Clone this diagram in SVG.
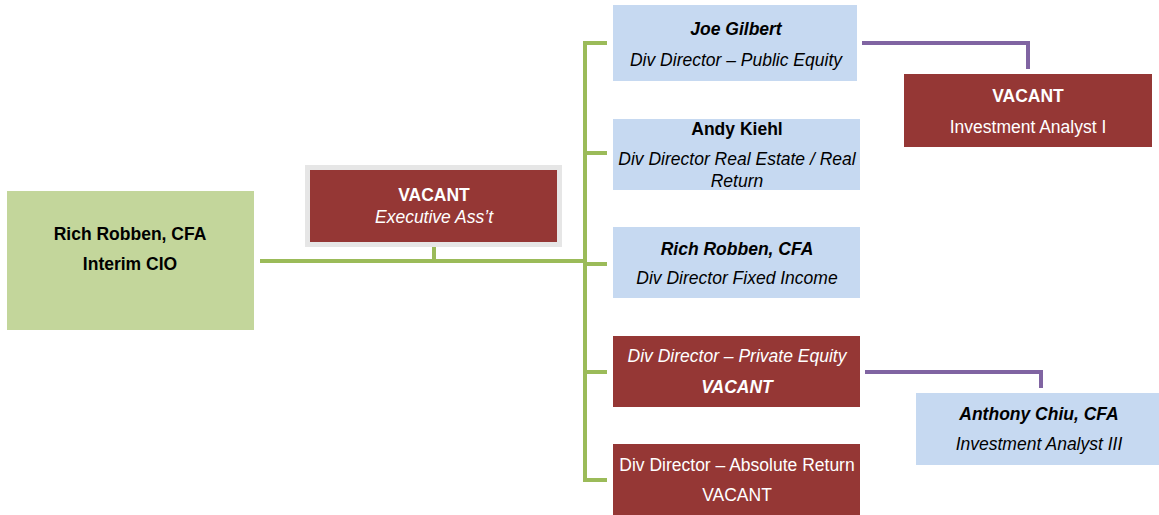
<svg xmlns="http://www.w3.org/2000/svg" width="1159" height="515" viewBox="0 0 1159 515">
  <style>
    text { font-family: "Liberation Sans", Arial, sans-serif; font-size: 17.5px; text-anchor: middle; }
    .b { font-weight: bold; }
    .i { font-style: italic; }
    .dark { fill: #000000; }
    .light { fill: #ffffff; }
    .blue { fill: #c6d9f1; }
    .red { fill: #953735; }
    .green { fill: #c3d69b; }
    .g { stroke: #9bbb59; stroke-width: 4; fill: none; }
    .p { stroke: #8064a2; stroke-width: 4; fill: none; }
  </style>

  <g id="connectors">
    <!-- CIO to directors trunk -->
    <path class="g" d="M260 261 H585"/>
    <path class="g" d="M434 247 V261"/>
    <path class="g" d="M585 42 V482"/>
    <path class="g" d="M583 43 H607 M585 153 H607 M585 264 H607 M585 372 H607 M583 480 H607"/>
    <!-- directors to analysts -->
    <path class="p" d="M862 43 H1028 V69"/>
    <path class="p" d="M865 372 H1041 V388"/>
  </g>

  <g id="cio">
    <rect class="green" x="7" y="191" width="247" height="139"/>
    <text class="b dark" x="130" y="240">Rich Robben, CFA</text>
    <text class="b dark" x="130" y="270">Interim CIO</text>
  </g>

  <g id="exec-asst">
    <rect x="305" y="165" width="257" height="82" fill="#e6e6e6"/>
    <rect class="red" x="310" y="170" width="247" height="72"/>
    <text class="b light" x="434" y="201">VACANT</text>
    <text class="i light" x="434" y="223">Executive Ass’t</text>
  </g>

  <g id="public-equity">
    <rect class="blue" x="613" y="5" width="244" height="76"/>
    <text class="b i dark" x="736" y="35">Joe Gilbert</text>
    <text class="i dark" x="736" y="66">Div Director – Public Equity</text>
  </g>

  <g id="real-estate">
    <rect class="blue" x="613" y="119" width="247" height="71"/>
    <text class="b dark" x="737" y="135">Andy Kiehl</text>
    <text class="i dark" x="737" y="165">Div Director Real Estate / Real</text>
    <text class="i dark" x="737" y="187">Return</text>
  </g>

  <g id="fixed-income">
    <rect class="blue" x="613" y="227" width="247" height="71"/>
    <text class="b i dark" x="737" y="255">Rich Robben, CFA</text>
    <text class="i dark" x="737" y="284">Div Director Fixed Income</text>
  </g>

  <g id="private-equity">
    <rect class="red" x="613" y="336" width="247" height="71"/>
    <text class="i light" x="737" y="362">Div Director – Private Equity</text>
    <text class="b i light" x="737" y="393">VACANT</text>
  </g>

  <g id="absolute-return">
    <rect class="red" x="613" y="444" width="247" height="71"/>
    <text class="light" x="737" y="471">Div Director – Absolute Return</text>
    <text class="light" x="737" y="501">VACANT</text>
  </g>

  <g id="analyst-i">
    <rect class="red" x="904" y="74" width="248" height="73"/>
    <text class="b light" x="1028" y="102">VACANT</text>
    <text class="light" x="1028" y="133">Investment Analyst I</text>
  </g>

  <g id="analyst-iii">
    <rect class="blue" x="916" y="393" width="243" height="72"/>
    <text class="b i dark" x="1039" y="420">Anthony Chiu, CFA</text>
    <text class="i dark" x="1039" y="450">Investment Analyst III</text>
  </g>
</svg>
